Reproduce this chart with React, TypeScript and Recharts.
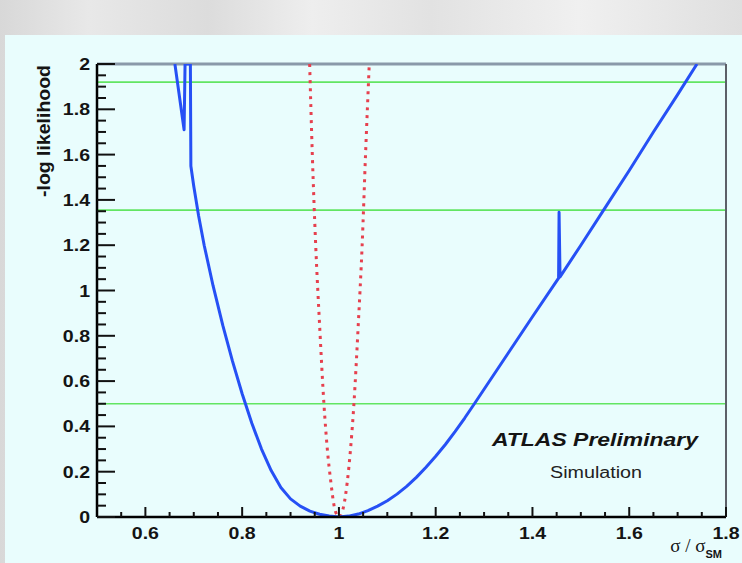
import { LineChart, Line, XAxis, YAxis, ReferenceLine } from 'recharts'

const W = 742
const H = 563
const FONT = "'Liberation Sans', Arial, Helvetica, sans-serif"

const BLUE_X = [0.661, 0.680, 0.682, 0.693, 0.694, 0.70, 0.71, 0.7215, 0.74, 0.76, 0.78, 0.80, 0.82, 0.84, 0.86, 0.88, 0.90, 0.92, 0.94, 0.96, 0.98, 1.0, 1.02, 1.04, 1.06, 1.08, 1.10, 1.12, 1.14, 1.16, 1.18, 1.20, 1.22, 1.24, 1.26, 1.28, 1.30, 1.35, 1.40, 1.454, 1.455, 1.457, 1.50, 1.55, 1.60, 1.65, 1.70, 1.74]
const BLUE_Y = [2.0, 1.71, 2.0, 2.0, 1.55, 1.46, 1.33, 1.20, 1.02, 0.846, 0.688, 0.544, 0.414, 0.30, 0.205, 0.13, 0.08, 0.048, 0.026, 0.012, 0.004, 0.0, 0.004, 0.013, 0.028, 0.048, 0.072, 0.101, 0.135, 0.175, 0.22, 0.268, 0.32, 0.377, 0.437, 0.5, 0.564, 0.724, 0.884, 1.055, 1.345, 1.06, 1.2, 1.365, 1.53, 1.7, 1.865, 2.0]

// stat-only curve (red dotted)
const RED_X = [0.9395, 0.945, 0.952, 0.96, 0.969, 0.976, 0.983, 0.99, 0.997, 1.0, 1.003, 1.01, 1.017, 1.024, 1.031, 1.04, 1.048, 1.055, 1.0627]
const RED_Y = [2.0, 1.6, 1.2, 0.85, 0.5, 0.3, 0.16, 0.05, 0.005, 0, 0.005, 0.05, 0.15, 0.3, 0.5, 0.85, 1.2, 1.6, 2.0]

const LEVELS = [0.5, 1.355, 1.92]

const X_TICKS = [0.55, 0.6, 0.65, 0.7, 0.75, 0.8, 0.85, 0.9, 0.95, 1, 1.05, 1.1, 1.15, 1.2, 1.25, 1.3, 1.35, 1.4, 1.45, 1.5, 1.55, 1.6, 1.65, 1.7, 1.75, 1.8]
const X_LABELS = [0.6, 0.8, 1, 1.2, 1.4, 1.6, 1.8]
const Y_TICKS = [0, 0.05, 0.1, 0.15, 0.2, 0.25, 0.3, 0.35, 0.4, 0.45, 0.5, 0.55, 0.6, 0.65, 0.7, 0.75, 0.8, 0.85, 0.9, 0.95, 1, 1.05, 1.1, 1.15, 1.2, 1.25, 1.3, 1.35, 1.4, 1.45, 1.5, 1.55, 1.6, 1.65, 1.7, 1.75, 1.8, 1.85, 1.9, 1.95, 2]
const Y_LABELS = [0, 0.2, 0.4, 0.6, 0.8, 1, 1.2, 1.4, 1.6, 1.8, 2]

const blue = BLUE_X.map((x, i) => ({ x, y: BLUE_Y[i] }))
const red = RED_X.map((x, i) => ({ x, y: RED_Y[i] }))

const isMajor = (list: number[], v: number) => list.some(l => Math.abs(l - v) < 1e-6)

function YTick({ x, y, payload }: any) {
  const major = isMajor(Y_LABELS, payload.value)
  return (
    <g>
      <line x1={x} x2={x + (major ? 18 : 9)} y1={y} y2={y} stroke="#111" strokeWidth={2} />
      {major && (
        <g transform={`translate(${x - 7},${y + 6}) scale(1.15,1)`}>
          <text x={0} y={0} textAnchor="end" fontSize={17} fontWeight="bold" fill="#141414" fontFamily={FONT}>
            {String(payload.value)}
          </text>
        </g>
      )}
    </g>
  )
}

function XTick({ x, y, payload }: any) {
  const major = isMajor(X_LABELS, payload.value)
  return (
    <g>
      <line x1={x} x2={x} y1={y} y2={y - (major ? 10 : 5)} stroke="#111" strokeWidth={2} />
      {major && (
        <g transform={`translate(${x},${y + 22}) scale(1.15,1)`}>
          <text x={0} y={0} textAnchor="middle" fontSize={17} fontWeight="bold" fill="#141414" fontFamily={FONT}>
            {String(payload.value)}
          </text>
        </g>
      )}
    </g>
  )
}

export default function App() {
  return (
    <div
      style={{
        position: 'absolute', left: 0, top: 0, width: W, height: H, overflow: 'hidden',
        background: 'linear-gradient(90deg, #d8d8d8 0%, #e8e8e8 12%, #dcdcdc 28%, #eeeeee 42%, #e2e2e2 58%, #f0f0f0 78%, #dfdfdf 100%)',
      }}
    >
      <div style={{ position: 'absolute', left: 5, top: 35, right: 0, bottom: 0, background: '#e9fdfd' }} />
      <div style={{ position: 'absolute', left: 0, top: 0 }}>
        <LineChart width={W} height={H} margin={{ top: 64, right: 16, bottom: 16, left: 0 }}>
          <XAxis
            dataKey="x" type="number" domain={[0.5, 1.8]} allowDataOverflow
            ticks={X_TICKS} interval={0} tickSize={0} tickMargin={0} height={30}
            axisLine={{ stroke: '#000', strokeWidth: 2.5 }} tickLine={false} tick={<XTick />}
          />
          <YAxis
            type="number" domain={[0, 2]} allowDataOverflow
            ticks={Y_TICKS} interval={0} tickSize={0} tickMargin={0} width={97}
            axisLine={{ stroke: '#000', strokeWidth: 2.5 }} tickLine={false} tick={<YTick />}
          />
          {LEVELS.map(l => (
            <ReferenceLine key={l} y={l} stroke="#62e562" strokeWidth={1.6} />
          ))}
          <ReferenceLine y={2} stroke="#8a99a9" strokeWidth={3} />
          <ReferenceLine x={1.8} stroke="#5c6068" strokeWidth={2} />
          <Line
            data={red} dataKey="y" type="monotone" stroke="#e6404e" strokeWidth={3}
            strokeDasharray="3 5" dot={false} isAnimationActive={false}
          />
          <Line
            data={blue} dataKey="y" type="linear" stroke="#2650f5" strokeWidth={3}
            strokeLinejoin="round" dot={false} isAnimationActive={false}
          />
        </LineChart>
      </div>
      <svg width={W} height={H} style={{ position: 'absolute', left: 0, top: 0, pointerEvents: 'none' }}>
        <text
          x={50} y={65} transform="rotate(-90, 50, 65)" textAnchor="end"
          fontSize={18} fontWeight="bold" fill="#141414" fontFamily={FONT}
          textLength={132} lengthAdjust="spacingAndGlyphs"
        >
          -log likelihood
        </text>
        <text x={722} y={552} textAnchor="end" fill="#141414">
          <tspan fontFamily="'Liberation Serif', 'Times New Roman', serif" fontSize={19}>σ / σ</tspan>
          <tspan fontFamily={FONT} fontWeight="bold" fontSize={11} dy={6}>SM</tspan>
        </text>
        <text
          x={492} y={446} fontSize={18} fontWeight="bold" fontStyle="italic" fill="#141414"
          fontFamily={FONT} textLength={206} lengthAdjust="spacingAndGlyphs"
        >
          ATLAS Preliminary
        </text>
        <text
          x={550} y={478} fontSize={16} fill="#222" fontFamily={FONT}
          textLength={92} lengthAdjust="spacingAndGlyphs"
        >
          Simulation
        </text>
      </svg>
    </div>
  )
}
